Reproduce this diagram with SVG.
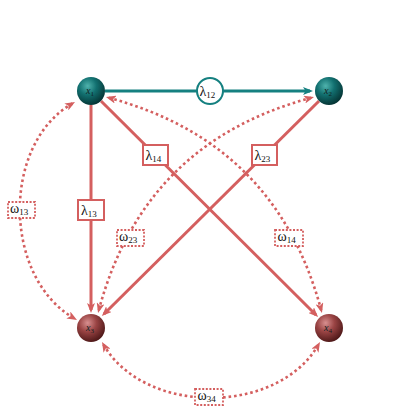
<svg xmlns="http://www.w3.org/2000/svg" width="420" height="420" viewBox="0 0 420 420">
<defs>
<radialGradient id="gT" cx="0.38" cy="0.32" r="0.7">
<stop offset="0" stop-color="#4fb3ad"/><stop offset="0.45" stop-color="#127070"/><stop offset="1" stop-color="#053434"/>
</radialGradient>
<radialGradient id="gR" cx="0.38" cy="0.32" r="0.7">
<stop offset="0" stop-color="#d89090"/><stop offset="0.45" stop-color="#9a4444"/><stop offset="1" stop-color="#4e1818"/>
</radialGradient>
<marker id="aR" viewBox="0 0 10 8" markerWidth="10" markerHeight="8" refX="7" refY="4" orient="auto-start-reverse" markerUnits="userSpaceOnUse">
<path d="M0,0 L10,4 L0,8 L2.5,4 z" fill="#d45f5f"/>
</marker>
<marker id="aT" viewBox="0 0 10 8" markerWidth="10" markerHeight="8" refX="7" refY="4" orient="auto-start-reverse" markerUnits="userSpaceOnUse">
<path d="M0,0 L10,4 L0,8 L2.5,4 z" fill="#158080"/>
</marker>
</defs>
<style>
.sol{fill:none;stroke:#d45f5f;stroke-width:3;marker-end:url(#aR)}
.tea{fill:none;stroke:#158080;stroke-width:3;marker-end:url(#aT)}
.dot{fill:none;stroke:#d45f5f;stroke-width:2.6;stroke-dasharray:2.6 2.9;marker-start:url(#aR);marker-end:url(#aR)}
.lb{fill:#fff;stroke:#d45f5f;stroke-width:2}
.lbd{fill:#fff;stroke:#d45f5f;stroke-width:1.8;stroke-dasharray:2 1.6}
.t{font-family:"Liberation Serif","DejaVu Serif",serif;font-size:14px;fill:#111}
.s{font-size:9px}
.n{font-family:"Liberation Serif","DejaVu Serif",serif;font-size:10px;font-style:italic;fill:#122}
.ns{font-size:7px;font-style:normal}
</style>
<g id="connectors">
<path class="tea" d="M105,91 L310,91"/>
<path class="sol" d="M91,105 L91,310"/>
<path class="sol" d="M101,101 L316,315"/>
<path class="sol" d="M319,101 L104,314"/>
<path class="dot" d="M72.4,103.5 C1,144.5 3,277.5 74.4,318.5"/>
<path class="dot" d="M108.9,97.8 C221,128 291,198 321.2,310.1"/>
<path class="dot" d="M311.1,97.8 C199,128 129,198 98.8,310.1"/>
<path class="dot" d="M103.5,344.6 C144.5,415.6 277.5,415.6 318.5,344.6"/>
</g>
<g id="label-l12"><circle cx="210" cy="91" r="13" fill="#fff" stroke="#158080" stroke-width="2"/><text class="t" x="199.5" y="96">λ<tspan class="s" dy="2">12</tspan></text></g>
<g id="label-l13"><rect class="lb" x="78" y="200" width="26" height="20"/><text class="t" x="81" y="214.5">λ<tspan class="s" dy="2">13</tspan></text></g>
<g id="label-l14"><rect class="lb" x="143" y="145" width="25" height="20"/><text class="t" x="145.5" y="159.5">λ<tspan class="s" dy="2">14</tspan></text></g>
<g id="label-l23"><rect class="lb" x="252" y="145" width="25" height="20"/><text class="t" x="254.5" y="159.5">λ<tspan class="s" dy="2">23</tspan></text></g>
<g id="label-w13"><rect class="lbd" x="8" y="202" width="27" height="16"/><text class="t" x="10" y="213">ω<tspan class="s" dy="2">13</tspan></text></g>
<g id="label-w23"><rect class="lbd" x="117" y="230" width="27" height="16"/><text class="t" x="119" y="241">ω<tspan class="s" dy="2">23</tspan></text></g>
<g id="label-w14"><rect class="lbd" x="275" y="230" width="28" height="16"/><text class="t" x="277.5" y="241">ω<tspan class="s" dy="2">14</tspan></text></g>
<g id="label-w34"><rect class="lbd" x="195" y="389" width="28" height="16"/><text class="t" x="197.5" y="400">ω<tspan class="s" dy="2">34</tspan></text></g>
<g id="x1"><circle cx="91" cy="91" r="14" fill="url(#gT)"/><text class="n" x="86" y="94">x<tspan class="ns" dy="2">1</tspan></text></g>
<g id="x2"><circle cx="329" cy="91" r="14" fill="url(#gT)"/><text class="n" x="324" y="94">x<tspan class="ns" dy="2">2</tspan></text></g>
<g id="x3"><circle cx="91" cy="328" r="14" fill="url(#gR)"/><text class="n" x="86" y="331">x<tspan class="ns" dy="2">3</tspan></text></g>
<g id="x4"><circle cx="329" cy="328" r="14" fill="url(#gR)"/><text class="n" x="324" y="331">x<tspan class="ns" dy="2">4</tspan></text></g>
</svg>
